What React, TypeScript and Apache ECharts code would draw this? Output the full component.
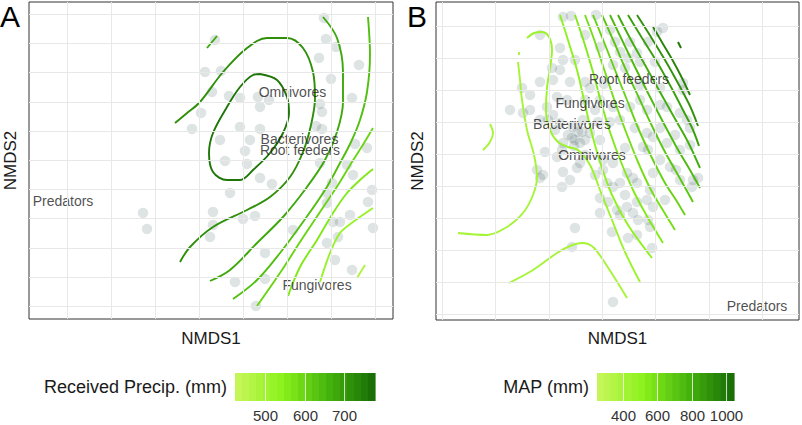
import React, { useEffect, useRef } from 'react';
import * as echarts from 'echarts';

const FONT = '"Liberation Sans", Arial, Helvetica, sans-serif';
const GREENS = ['#c9f65d', '#8cf21c', '#45b40c', '#176a07'];
const POINT_COLOR = '#2f4f4f';

// ---------------- Panel A (received precipitation) ----------------
const sitesA: [number, number][] = [
  [1.25, 1.42], [0.16, 1.2], [1.27, 1.21], [1.37, 1.13], [1.2, 1.02], [1.6, 0.95],
  [0.06, 0.88], [0.22, 0.89], [1.32, 0.81], [0.13, 0.68], [0.3, 0.64], [0.41, 0.62],
  [0.59, 0.63], [0.7, 0.6], [1.21, 0.56], [1.53, 0.62], [0.02, 0.47], [0.61, 0.53],
  [1.23, 0.48], [-0.07, 0.31], [0.41, 0.33], [0.61, 0.31], [1.17, 0.34], [1.23, 0.31],
  [0.21, 0.2], [0.51, 0.2], [0.46, 0.09], [1.56, 0.16], [1.68, 0.12], [0.26, -0.01],
  [0.48, -0.04], [1.21, -0.03], [1.48, -0.05], [1.54, -0.15], [0.61, -0.18], [0.73, -0.24],
  [1.33, -0.23], [0.31, -0.33], [1.73, -0.3], [1.28, -0.33], [1.28, -0.43], [1.69, -0.42],
  [-0.56, -0.53], [-0.52, -0.69], [0.14, -0.52], [0.44, -0.59], [0.56, -0.56], [1.51, -0.55],
  [1.41, -0.62], [1.34, -0.62], [0.94, -0.7], [1.74, -0.68], [0.11, -0.77], [0.14, -0.65],
  [1.39, -0.77], [1.28, -0.83], [0.66, -0.93], [1.36, -1.0], [1.53, -1.1], [0.36, -1.22],
  [0.66, -1.19], [0.57, -1.46],
];

const contourA1: [number, number][] = [
  [0.61, 0.86], [0.78, 0.8], [0.88, 0.63], [0.9, 0.47], [0.84, 0.27], [0.71, 0.07],
  [0.54, -0.1], [0.41, -0.2], [0.28, -0.2], [0.14, -0.12], [0.1, 0.07], [0.14, 0.27],
  [0.28, 0.53], [0.41, 0.73], [0.54, 0.85], [0.61, 0.86],
];
const contourA2: [number, number][] = [
  [-0.24, 0.37], [-0.12, 0.47], [0.01, 0.58], [0.24, 0.88], [0.48, 1.12], [0.68, 1.22],
  [0.88, 1.22], [1.04, 1.12], [1.14, 0.88], [1.16, 0.62], [1.12, 0.35], [1.04, 0.08],
  [0.91, -0.17], [0.71, -0.37], [0.48, -0.5], [0.14, -0.67], [-0.09, -0.87], [-0.19, -1.02],
];
const contourA3: [number, number][] = [
  [1.24, 1.43], [1.38, 1.22], [1.44, 0.88], [1.44, 0.58], [1.38, 0.28], [1.26, 0.0],
  [1.08, -0.27], [0.84, -0.57], [0.58, -0.83], [0.31, -1.1], [0.11, -1.21],
];
const contourA3b: [number, number][] = [[0.08, 1.12], [0.18, 1.24]];
const contourA4: [number, number][] = [
  [1.69, 1.43], [1.71, 1.05], [1.68, 0.68], [1.61, 0.4], [1.52, 0.18], [1.41, -0.03],
  [1.26, -0.3], [1.04, -0.62], [0.81, -0.93], [0.58, -1.2], [0.34, -1.39],
];
const contourA5: [number, number][] = [
  [1.74, 0.32], [1.65, 0.17], [1.53, -0.02], [1.39, -0.25], [1.21, -0.52], [1.01, -0.82],
  [0.83, -1.1], [0.58, -1.46],
];
const contourA6: [number, number][] = [
  [1.74, -0.09], [1.61, -0.2], [1.48, -0.33], [1.34, -0.53], [1.18, -0.8], [1.01, -1.07], [0.89, -1.36],
];
const contourA7: [number, number][] = [
  [1.74, -0.48], [1.54, -0.62], [1.41, -0.73], [1.31, -0.93], [1.21, -1.22],
];
const contourA8: [number, number][] = [[1.66, -1.05], [1.58, -1.18]];

const contoursA = [contourA1, contourA2, contourA3, contourA3b, contourA4, contourA5, contourA6, contourA7, contourA8];
const levelsA = [760, 720, 680, 680, 640, 600, 560, 520, 480];

const speciesNames = ['Omnivores', 'Bacterivores', 'Root feeders', 'Predators', 'Fungivores'];
const speciesAx = [0.935, 1.005, 1.01, -1.36, 1.18];
const speciesAy = [0.68, 0.21, 0.1, -0.41, -1.25];

// ---------------- Panel B (MAP) ----------------
const sitesB: [number, number][] = [
  [-0.39, 1.69], [-0.31, 1.7], [-0.06, 1.71], [-0.62, 1.51], [0.61, 1.58], [0.55, 1.54],
  [0.46, 1.44], [0.28, 1.44], [0.13, 1.44], [-0.02, 1.39], [0.18, 1.34], [0.35, 1.33],
  [0.26, 1.28], [-0.42, 1.38], [-0.39, 1.26], [-0.5, 1.18], [-0.42, 1.16], [0.11, 1.21],
  [0.23, 1.18], [0.38, 1.24], [0.53, 1.24], [-0.62, 1.04], [-0.49, 1.06], [-0.32, 1.04],
  [-0.17, 1.04], [0.02, 1.02], [0.81, 1.03], [0.81, 0.96], [-0.8, 0.98], [-0.92, 0.76],
  [-0.79, 0.73], [-0.72, 0.76], [-0.55, 0.79], [-0.45, 0.89], [-0.35, 0.86], [-0.17, 0.86],
  [-0.02, 0.86], [0.11, 0.79], [0.28, 0.79], [0.38, 0.86], [0.45, 0.76], [0.58, 0.81],
  [0.65, 0.79], [0.78, 0.73], [0.85, 0.66], [0.88, 0.58], [-0.42, 0.63], [-0.29, 0.59],
  [-0.19, 0.66], [-0.04, 0.64], [0.08, 0.64], [-0.34, 0.51], [-0.27, 0.46], [-0.22, 0.43],
  [-0.39, 0.43], [-0.12, 0.53], [0.45, 0.53], [0.51, 0.49], [0.41, 0.39], [0.46, 0.36],
  [0.65, 0.43], [0.78, 0.36], [-0.57, 0.34], [-0.45, 0.29], [-0.4, 0.36], [-0.22, 0.23],
  [0.01, 0.26], [0.11, 0.23], [-0.65, 0.16], [-0.59, 0.11], [-0.39, 0.14], [-0.25, 0.18],
  [-0.32, 0.06], [-0.4, -0.01], [-0.62, 0.08], [0.01, 0.16], [0.25, 0.13], [0.05, 0.03],
  [0.18, 0.03], [0.35, 0.03], [0.31, 0.08], [0.51, 0.13], [0.58, 0.26], [0.68, 0.19],
  [0.74, 0.16], [0.78, 0.06], [0.91, 0.06], [0.96, 0.08], [0.9, -0.01], [0.11, -0.01],
  [-0.02, -0.12], [0.06, -0.16], [0.15, -0.24], [-0.02, -0.27], [0.25, -0.21], [0.31, -0.27],
  [0.18, -0.29], [0.35, -0.16], [0.45, -0.14], [0.51, -0.21], [0.36, -0.34], [0.46, -0.34],
  [0.48, -0.41], [-0.27, -0.42], [0.35, -0.49], [0.5, -0.62], [-0.3, -0.61], [0.11, -1.16],
  [-0.3, 0.48], [-0.17, 0.46], [-0.24, 0.54], [-0.49, 0.71], [-0.62, 0.66],
  [-0.07, 0.76], [0.18, 0.66], [0.33, 0.58], [0.58, 0.58], [0.73, 0.51], [0.88, 0.41],
  [0.23, 0.38], [-0.02, 0.46], [-0.47, 0.56], [-0.17, 0.31], [-0.07, 0.11], [0.48, -0.04],
  [0.63, -0.14], [0.23, -0.09], [-0.12, 0.98], [0.38, 1.01], [0.58, 0.98], [0.08, 1.56],
  [-0.17, 1.51], [-0.27, 1.26], [-0.72, 0.91], [-0.54, 0.66], [-0.2, 0.54], [-0.28, 0.4],
  [0.1, -0.46], [0.26, -0.52],
];

const contourBa: [number, number][] = [[-1.12, 0.62], [-1.09, 0.53], [-1.12, 0.44], [-1.19, 0.36]];
const contourBtick: [number, number][] = [[-0.83, 1.34], [-0.83, 1.31]];
const contourBc: [number, number][] = [
  [-0.84, 1.24], [-0.82, 1.06], [-0.8, 0.86], [-0.75, 0.56], [-0.68, 0.31], [-0.65, 0.09],
  [-0.69, -0.09], [-0.79, -0.27], [-0.95, -0.41], [-1.15, -0.49], [-1.44, -0.47],
];
const contourBd: [number, number][] = [
  [-0.93, -0.97], [-0.69, -0.84], [-0.45, -0.67], [-0.32, -0.6], [-0.2, -0.57], [-0.09, -0.61],
  [0.05, -0.8], [0.25, -1.12],
];
const contourBe: [number, number][] = [
  [-0.75, 1.48], [-0.68, 1.53], [-0.6, 1.54], [-0.53, 1.49], [-0.5, 1.36], [-0.52, 1.18],
  [-0.55, 0.98], [-0.56, 0.76], [-0.52, 0.56], [-0.44, 0.44], [-0.34, 0.39], [-0.24, 0.36],
  [-0.12, 0.21], [-0.02, -0.04], [0.1, -0.34], [0.23, -0.66], [0.38, -0.96],
];
const contourBf1: [number, number][] = [
  [-0.42, 1.71], [-0.34, 1.46], [-0.25, 1.16], [-0.18, 0.86], [-0.11, 0.56], [-0.02, 0.24],
  [0.1, -0.09], [0.26, -0.39], [0.5, -0.72],
];
const contourBf2: [number, number][] = [
  [-0.27, 1.71], [-0.18, 1.44], [-0.09, 1.14], [-0.01, 0.84], [0.08, 0.54], [0.19, 0.24],
  [0.32, -0.06], [0.46, -0.32], [0.61, -0.57],
];
const contourBf3: [number, number][] = [
  [-0.17, 1.71], [-0.07, 1.44], [0.03, 1.14], [0.13, 0.84], [0.24, 0.54], [0.36, 0.24],
  [0.49, -0.04], [0.62, -0.26], [0.73, -0.44],
];
const contourBf4: [number, number][] = [
  [-0.09, 1.71], [0.02, 1.44], [0.13, 1.16], [0.25, 0.86], [0.37, 0.56], [0.5, 0.28],
  [0.63, 0.03], [0.74, -0.14], [0.83, -0.29],
];
const contourBf5: [number, number][] = [
  [0.0, 1.71], [0.12, 1.44], [0.24, 1.16], [0.37, 0.88], [0.5, 0.6], [0.63, 0.34],
  [0.76, 0.11], [0.91, -0.16],
];
const contourBf6: [number, number][] = [
  [0.08, 1.71], [0.2, 1.46], [0.33, 1.19], [0.47, 0.91], [0.61, 0.64], [0.75, 0.38],
  [0.88, 0.16], [0.98, -0.02],
];
const contourBf7: [number, number][] = [
  [0.16, 1.71], [0.29, 1.46], [0.43, 1.21], [0.58, 0.94], [0.72, 0.69], [0.86, 0.44], [0.98, 0.18],
];
const contourBf8: [number, number][] = [
  [0.26, 1.71], [0.4, 1.48], [0.55, 1.24], [0.69, 0.99], [0.82, 0.74], [0.91, 0.56], [0.97, 0.4],
];
const contourBf9: [number, number][] = [
  [0.35, 1.71], [0.49, 1.49], [0.63, 1.26], [0.77, 1.01], [0.88, 0.8], [0.96, 0.6],
];
const contourBf10: [number, number][] = [[0.51, 1.59], [0.61, 1.42], [0.71, 1.25], [0.8, 1.08], [0.88, 0.91]];
const contourBf11: [number, number][] = [[0.76, 1.44], [0.79, 1.38]];

const contoursB = [
  contourBa, contourBtick, contourBc, contourBd, contourBe, contourBf1, contourBf2, contourBf3,
  contourBf4, contourBf5, contourBf6, contourBf7, contourBf8, contourBf9, contourBf10, contourBf11,
];
const levelsB = [400, 400, 400, 400, 450, 500, 550, 600, 650, 700, 750, 800, 850, 900, 950, 1000];

const speciesBx = [-0.1, -0.3, 0.27, 1.55, -0.12];
const speciesBy = [0.31, 0.62, 1.07, -1.2, 0.83];

// ---------------- Colour bars ----------------
const legendATitle = 'Received Precip. (mm)';
const legendARange = [423, 779];
const legendATicks = [500, 600, 700];
const legendBTitle = 'MAP (mm)';
const legendBRange = [249, 1045];
const legendBTicks = [400, 600, 800, 1000];

function greenAt(v: number, lo: number, hi: number): string {
  const t = Math.max(0, Math.min(1, (v - lo) / (hi - lo)));
  return echarts.color.lerp(t, GREENS) as string;
}

function gridLines(step: number, lo: number, hi: number): number[] {
  const out: number[] = [];
  for (let k = Math.ceil(lo / step - 1e-6); k * step <= hi + 1e-9; k++) out.push(+(k * step).toFixed(4));
  return out;
}

function colorBar(left: number, top: number, width: number, height: number, range: number[], ticks: number[], title: string) {
  const els: any[] = [];
  const nbin = 20;
  for (let k = 0; k < nbin; k++) {
    const v = range[0] + ((k + 0.5) / nbin) * (range[1] - range[0]);
    els.push({
      type: 'rect',
      shape: { x: left + (k * width) / nbin, y: top, width: width / nbin + 0.6, height },
      style: { fill: greenAt(v, range[0], range[1]) },
      silent: true,
    });
  }
  ticks.forEach((t) => {
    const x = Math.round(left + ((t - range[0]) / (range[1] - range[0])) * width) + 0.5;
    els.push({
      type: 'line',
      shape: { x1: x, y1: top, x2: x, y2: top + height },
      style: { stroke: '#ffffff', lineWidth: 1, opacity: 0.75 },
      silent: true,
    });
    els.push({
      type: 'text',
      x,
      y: top + height + 14,
      style: {
        text: String(t), fontSize: 15, fontFamily: FONT, fill: '#333333',
        align: 'center', verticalAlign: 'middle', textAlign: 'center', textVerticalAlign: 'middle',
      },
      silent: true,
    });
  });
  els.push({
    type: 'text',
    x: left - 8,
    y: top + height / 2,
    style: {
      text: title, fontSize: 18, fontFamily: FONT, fill: '#1a1a1a',
      align: 'right', verticalAlign: 'middle', textAlign: 'right', textVerticalAlign: 'middle',
    },
    silent: true,
  });
  return els;
}

function panelSeries(idx: number, sites: [number, number][], contours: [number, number][][], levels: number[],
  range: number[], sx: number[], sy: number[], xStep: number, yStep: number, xr: number[], yr: number[]) {
  const s: any[] = [];
  s.push({
    type: 'scatter', xAxisIndex: idx, yAxisIndex: idx, data: [], silent: true, z: 1,
    markLine: {
      silent: true, symbol: ['none', 'none'], label: { show: false }, animation: false,
      lineStyle: { color: '#e8e8e8', width: 1, type: 'solid' },
      emphasis: { disabled: true },
      data: [
        ...gridLines(xStep, xr[0], xr[1]).map((v) => ({ xAxis: v })),
        ...gridLines(yStep, yr[0], yr[1]).map((v) => ({ yAxis: v })),
      ],
    },
  });
  s.push({
    type: 'scatter', xAxisIndex: idx, yAxisIndex: idx, data: sites, symbolSize: 10.5, silent: true, z: 2,
    itemStyle: { color: POINT_COLOR, opacity: 0.16 },
  });
  contours.forEach((c, i) => {
    s.push({
      type: 'line', xAxisIndex: idx, yAxisIndex: idx, data: c, smooth: 0.35, showSymbol: false,
      silent: true, z: 3, lineStyle: { color: greenAt(levels[i], range[0], range[1]), width: 1.9 },
    });
  });
  s.push({
    type: 'scatter', xAxisIndex: idx, yAxisIndex: idx, silent: true, z: 4, symbolSize: 1,
    itemStyle: { color: 'rgba(0,0,0,0)' },
    label: { show: true, position: 'inside', formatter: '{b}', fontSize: 14, fontFamily: FONT, color: '#1e1e1e' },
    data: speciesNames.map((n, i) => ({ name: n, value: [sx[i], sy[i]] })),
  });
  return s;
}

export default function App() {
  const ref = useRef<HTMLDivElement>(null);
  useEffect(() => {
    document.body.style.margin = '0';
    if (!ref.current) return;
    const chart = echarts.init(ref.current, undefined, { renderer: 'svg' });
    const xrA = [-1.7, 1.94], yrA = [-1.59, 1.58];
    const xrB = [-1.66, 1.97], yrB = [-1.34, 1.84];
    const axisCommon = {
      type: 'value', axisLabel: { show: false }, axisTick: { show: false }, axisLine: { show: false },
      splitLine: { show: false }, nameLocation: 'middle',
      nameTextStyle: { fontSize: 17, fontFamily: FONT, color: '#1a1a1a' },
    };
    chart.setOption({
      animation: false,
      backgroundColor: '#ffffff',
      grid: [
        { left: 29, top: 2, width: 364, height: 317, show: true, borderColor: '#333333', borderWidth: 1, backgroundColor: '#ffffff' },
        { left: 436, top: 2, width: 363, height: 318, show: true, borderColor: '#333333', borderWidth: 1, backgroundColor: '#ffffff' },
      ],
      xAxis: [
        { ...axisCommon, gridIndex: 0, min: xrA[0], max: xrA[1], name: 'NMDS1', nameGap: 11 },
        { ...axisCommon, gridIndex: 1, min: xrB[0], max: xrB[1], name: 'NMDS1', nameGap: 10 },
      ],
      yAxis: [
        { ...axisCommon, gridIndex: 0, min: yrA[0], max: yrA[1], name: 'NMDS2', nameGap: 10, nameRotate: 90 },
        { ...axisCommon, gridIndex: 1, min: yrB[0], max: yrB[1], name: 'NMDS2', nameGap: 10, nameRotate: 90 },
      ],
      series: [
        ...panelSeries(0, sitesA, contoursA, levelsA, legendARange, speciesAx, speciesAy, 0.44, 0.292, xrA, yrA),
        ...panelSeries(1, sitesB, contoursB, levelsB, legendBRange, speciesBx, speciesBy, 0.5333, 0.32, xrB, yrB),
      ],
      graphic: [
        {
          type: 'text', x: 0, y: 16, silent: true,
          style: { text: 'A', fontSize: 30, fontFamily: FONT, fill: '#000', align: 'left', verticalAlign: 'middle', textAlign: 'left', textVerticalAlign: 'middle' },
        },
        {
          type: 'text', x: 407, y: 16, silent: true,
          style: { text: 'B', fontSize: 30, fontFamily: FONT, fill: '#000', align: 'left', verticalAlign: 'middle', textAlign: 'left', textVerticalAlign: 'middle' },
        },
        ...colorBar(235, 373, 140, 28, legendARange, legendATicks, legendATitle),
        ...colorBar(597, 373, 137, 28, legendBRange, legendBTicks, legendBTitle),
      ],
    });
    return () => chart.dispose();
  }, []);
  return <div ref={ref} style={{ position: 'absolute', left: 0, top: 0, width: 802, height: 425 }} />;
}
